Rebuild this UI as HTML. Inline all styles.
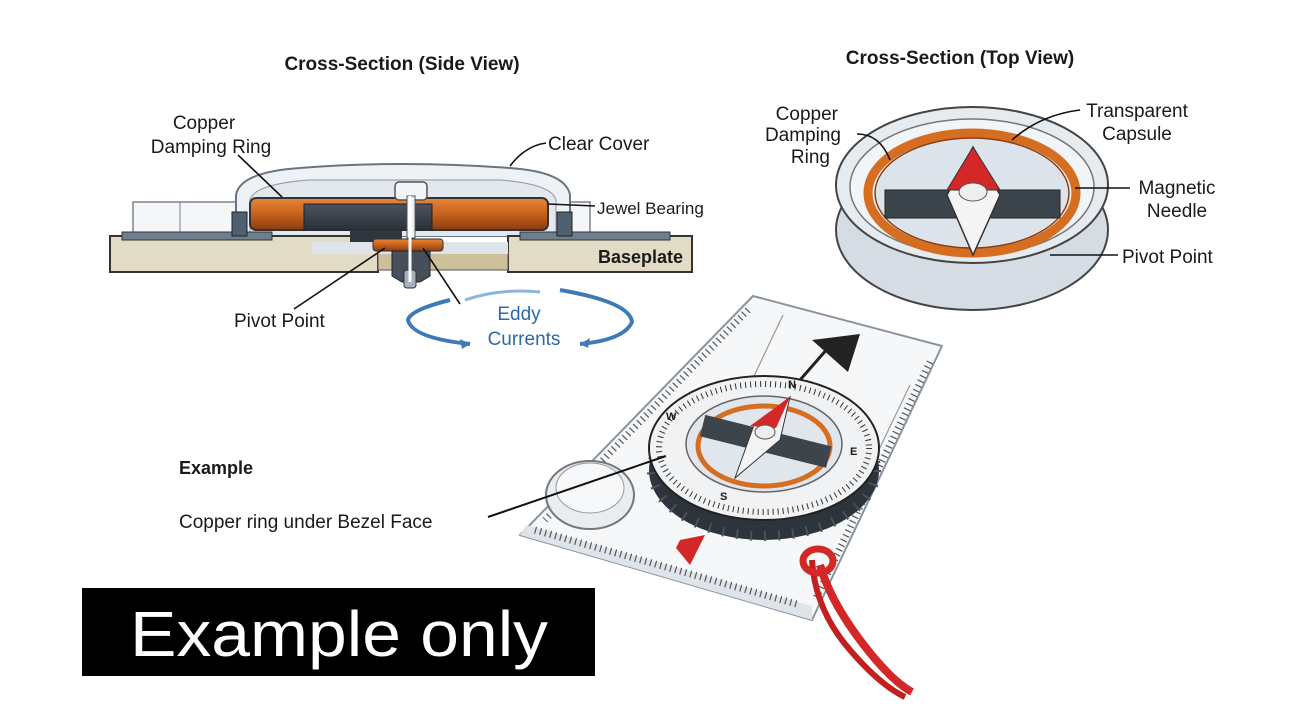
<!DOCTYPE html>
<html><head><meta charset="utf-8"><style>
html,body{margin:0;padding:0;background:#fff;width:1296px;height:726px;overflow:hidden}
svg{display:block}
text{font-family:"Liberation Sans",sans-serif;fill:#1a1a1a}
</style></head><body>
<svg width="1296" height="726" viewBox="0 0 1296 726" xmlns="http://www.w3.org/2000/svg">
<defs>
<linearGradient id="cu" x1="0" y1="0" x2="0" y2="1"><stop offset="0" stop-color="#e8873a"/><stop offset="0.5" stop-color="#c8601c"/><stop offset="1" stop-color="#8a3d12"/></linearGradient>
<linearGradient id="dk" x1="0" y1="0" x2="0" y2="1"><stop offset="0" stop-color="#4a5460"/><stop offset="1" stop-color="#2a3038"/></linearGradient>
</defs>

<!-- SIDE VIEW -->
<text x="402" y="70" font-size="19" font-weight="bold" text-anchor="middle">Cross-Section (Side View)</text>
<text x="204" y="129" font-size="19" text-anchor="middle">Copper</text>
<text x="211" y="153" font-size="19" text-anchor="middle">Damping Ring</text>
<text x="548" y="150" font-size="19">Clear Cover</text>

<!-- side rails -->
<rect x="133" y="202" width="110" height="34" fill="#f4f6f8" stroke="#7a8490" stroke-width="1.5"/>
<line x1="180" y1="202" x2="180" y2="236" stroke="#7a8490"/>
<rect x="560" y="202" width="30" height="34" fill="#f4f6f8" stroke="#7a8490" stroke-width="1.5"/>
<!-- dome -->
<path d="M236,236 L236,195 Q240,172 300,168 Q402,160 510,168 Q566,172 570,195 L570,236 Z" fill="#eef2f5" stroke="#6a7480" stroke-width="2"/>
<path d="M250,236 L250,200 Q254,184 310,180 L500,180 Q552,184 556,200 L556,236" fill="#e2e8ee" stroke="#9aa4ae" stroke-width="1.2"/>
<!-- baseplate -->
<rect x="110" y="236" width="268" height="36" fill="#e2dcc6" stroke="#333" stroke-width="2"/>
<rect x="508" y="236" width="184" height="36" fill="#e2dcc6" stroke="#333" stroke-width="2"/>
<rect x="378" y="250" width="130" height="20" fill="#cdbf9a" stroke="#555"/>
<rect x="312" y="242" width="196" height="12" fill="#dfe4ea"/>
<rect x="122" y="232" width="150" height="8" fill="#6f7e8c" stroke="#333"/>
<rect x="520" y="232" width="150" height="8" fill="#6f7e8c" stroke="#333"/>
<rect x="232" y="212" width="15" height="24" fill="#4f6070" stroke="#222"/>
<rect x="557" y="212" width="15" height="24" fill="#4f6070" stroke="#222"/>
<!-- copper ring -->
<rect x="250" y="198" width="298" height="32" rx="6" fill="url(#cu)" stroke="#333" stroke-width="2"/>
<rect x="304" y="204" width="128" height="26" fill="url(#dk)" stroke="#222"/>
<rect x="350" y="230" width="52" height="12" fill="#2f363e"/>
<!-- shaft -->
<rect x="395" y="182" width="32" height="18" rx="4" fill="#f2f4f6" stroke="#555" stroke-width="1.5"/>
<rect x="407" y="196" width="8" height="42" fill="#eef1f4" stroke="#555"/>
<rect x="373" y="239" width="70" height="12" rx="3" fill="url(#cu)" stroke="#333"/>
<path d="M392,251 L430,251 L430,276 L420,282 L402,282 L392,276 Z" fill="#46505a" stroke="#222"/>
<rect x="404" y="270" width="12" height="18" rx="3" fill="#a8b2bc" stroke="#333"/>
<line x1="410" y1="196" x2="410" y2="282" stroke="#fff" stroke-width="3"/>
<text x="597" y="214" font-size="17">Jewel Bearing</text>
<text x="598" y="263" font-size="18" font-weight="bold">Baseplate</text>
<text x="234" y="327" font-size="19">Pivot Point</text>
<!-- leaders -->
<line x1="238" y1="155" x2="282" y2="197" stroke="#111" stroke-width="1.6"/>
<path d="M546,143 Q525,146 510,166" fill="none" stroke="#111" stroke-width="1.6"/>
<line x1="548" y1="204" x2="595" y2="206" stroke="#111" stroke-width="1.6"/>
<line x1="294" y1="309" x2="385" y2="248" stroke="#111" stroke-width="1.6"/>
<line x1="460" y1="304" x2="423" y2="248" stroke="#111" stroke-width="1.6"/>
<!-- eddy -->
<path d="M450,300 Q410,310 408,320 Q412,338 470,344" fill="none" stroke="#3e7ab8" stroke-width="4"/>
<path d="M560,290 Q630,302 632,322 Q624,340 580,344" fill="none" stroke="#3e7ab8" stroke-width="4"/>
<path d="M465,300 Q500,288 540,292" fill="none" stroke="#8ab6dc" stroke-width="3"/>
<path d="M470,344 l-10,-5 l2,10 z M580,344 l10,-6 l-2,10z" fill="#3e7ab8"/>
<text x="519" y="320" font-size="19" text-anchor="middle" style="fill:#2f68a8">Eddy</text>
<text x="524" y="345" font-size="19" text-anchor="middle" style="fill:#2f68a8">Currents</text>

<!-- TOP VIEW -->
<text x="960" y="64" font-size="19" font-weight="bold" text-anchor="middle">Cross-Section (Top View)</text>
<text x="838" y="120" font-size="19" text-anchor="end">Copper</text>
<text x="841" y="141" font-size="19" text-anchor="end">Damping</text>
<text x="830" y="163" font-size="19" text-anchor="end">Ring</text>
<text x="1137" y="117" font-size="19" text-anchor="middle">Transparent</text>
<text x="1137" y="140" font-size="19" text-anchor="middle">Capsule</text>
<text x="1177" y="194" font-size="19" text-anchor="middle">Magnetic</text>
<text x="1177" y="217" font-size="19" text-anchor="middle">Needle</text>
<text x="1122" y="263" font-size="19">Pivot Point</text>
<ellipse cx="972" cy="230" rx="136" ry="80" fill="#d5dce3" stroke="#444" stroke-width="2"/>
<ellipse cx="972" cy="185" rx="136" ry="78" fill="#e6ebf0" stroke="#444" stroke-width="2"/>
<ellipse cx="972" cy="187" rx="122" ry="68" fill="#f2f5f8" stroke="#777" stroke-width="1.5"/>
<ellipse cx="972" cy="193" rx="104" ry="60" fill="none" stroke="#d56e20" stroke-width="9"/>
<ellipse cx="972" cy="193" rx="97" ry="55" fill="#dde3ea" stroke="#8a3d12" stroke-width="1.5"/>
<rect x="885" y="190" width="175" height="28" fill="#3c444c" stroke="#222"/>
<path d="M973,147 L1000,195 L973,255 L947,195 Z" fill="#f4f4f4" stroke="#333" stroke-width="1.5"/>
<path d="M973,147 L1000,190 L947,190 Z" fill="#d42828" stroke="#333"/>
<ellipse cx="973" cy="192" rx="14" ry="9" fill="#eee" stroke="#555"/>
<path d="M857,134 Q880,134 890,160" fill="none" stroke="#111" stroke-width="1.6"/>
<path d="M1080,110 Q1040,115 1012,140" fill="none" stroke="#111" stroke-width="1.6"/>
<line x1="1075" y1="188" x2="1130" y2="188" stroke="#111" stroke-width="1.6"/>
<line x1="1050" y1="255" x2="1118" y2="255" stroke="#111" stroke-width="1.6"/>

<!-- EXAMPLE COMPASS -->
<text x="179" y="474" font-size="18" font-weight="bold">Example</text>
<text x="179" y="528" font-size="19">Copper ring under Bezel Face</text>
<polygon points="753,296 942,346 812,620 520,535" fill="#f5f7f9" stroke="#8a949e" stroke-width="2" stroke-linejoin="round"/>
<polygon points="526,525 812,606 812,620 520,535" fill="#dfe4ea"/>
<!-- ruler ticks -->
<line x1="748" y1="310" x2="545" y2="520" stroke="#555" stroke-width="7" stroke-dasharray="1.2,4"/>
<line x1="930" y1="362" x2="815" y2="600" stroke="#555" stroke-width="7" stroke-dasharray="1.2,4"/>
<line x1="535" y1="530" x2="800" y2="605" stroke="#555" stroke-width="7" stroke-dasharray="1.2,4"/>
<line x1="783" y1="315" x2="706" y2="477" stroke="#999" stroke-width="1.2"/>
<line x1="910" y1="385" x2="850" y2="510" stroke="#999" stroke-width="1.2"/>
<line x1="800" y1="380" x2="835" y2="340" stroke="#222" stroke-width="3"/>
<polygon points="812,340 860,334 848,372" fill="#222"/>
<polygon points="680,540 705,535 690,565 676,548" fill="#d42828"/>
<ellipse cx="590" cy="495" rx="44" ry="34" fill="#e8edf2" stroke="#777" stroke-width="2"/>
<ellipse cx="590" cy="488" rx="34" ry="25" fill="#f6f8fa" stroke="#999"/>
<ellipse cx="764" cy="470" rx="115" ry="70" fill="#2e343b"/>
<ellipse cx="764" cy="470" rx="112" ry="66" fill="none" stroke="#4a525a" stroke-width="10" stroke-dasharray="2,12"/>
<ellipse cx="764" cy="448" rx="115" ry="72" fill="#f0f2f4" stroke="#222" stroke-width="2"/>
<ellipse cx="764" cy="448" rx="105" ry="64" fill="none" stroke="#333" stroke-width="6" stroke-dasharray="1,4"/>
<ellipse cx="764" cy="444" rx="78" ry="48" fill="#e0e6ec" stroke="#666" stroke-width="1.5"/>
<ellipse cx="764" cy="446" rx="66" ry="40" fill="none" stroke="#d56e20" stroke-width="5"/>
<rect x="700" y="430" width="130" height="22" fill="#3c444c" transform="rotate(14 764 444)"/>
<path d="M790,397 L780,440 L735,478 L754,425 Z" fill="#f4f4f4" stroke="#333"/>
<path d="M790,397 L776,428 L750,426 Z" fill="#d42828"/>
<ellipse cx="765" cy="432" rx="10" ry="7" fill="#eee" stroke="#555"/>
<text x="788" y="388" font-size="11" font-weight="bold">N</text>
<text x="850" y="455" font-size="11" font-weight="bold">E</text>
<text x="720" y="500" font-size="11" font-weight="bold">S</text>
<text x="666" y="420" font-size="11" font-weight="bold">W</text>
<line x1="488" y1="517" x2="666" y2="456" stroke="#111" stroke-width="2"/>
<path d="M820,565 Q830,600 860,640 Q890,680 912,692" fill="none" stroke="#d42828" stroke-width="8"/>
<path d="M812,560 Q815,610 850,650 Q880,685 905,697" fill="none" stroke="#c21f1f" stroke-width="6"/>
<ellipse cx="818" cy="561" rx="15" ry="12" fill="none" stroke="#d42828" stroke-width="7"/>

<!-- Example only box -->
<rect x="82" y="588" width="513" height="88" fill="#000"/>
<text x="130" y="656" font-size="64" style="fill:#fff" textLength="418" lengthAdjust="spacingAndGlyphs">Example only</text>
</svg>
</body></html>
